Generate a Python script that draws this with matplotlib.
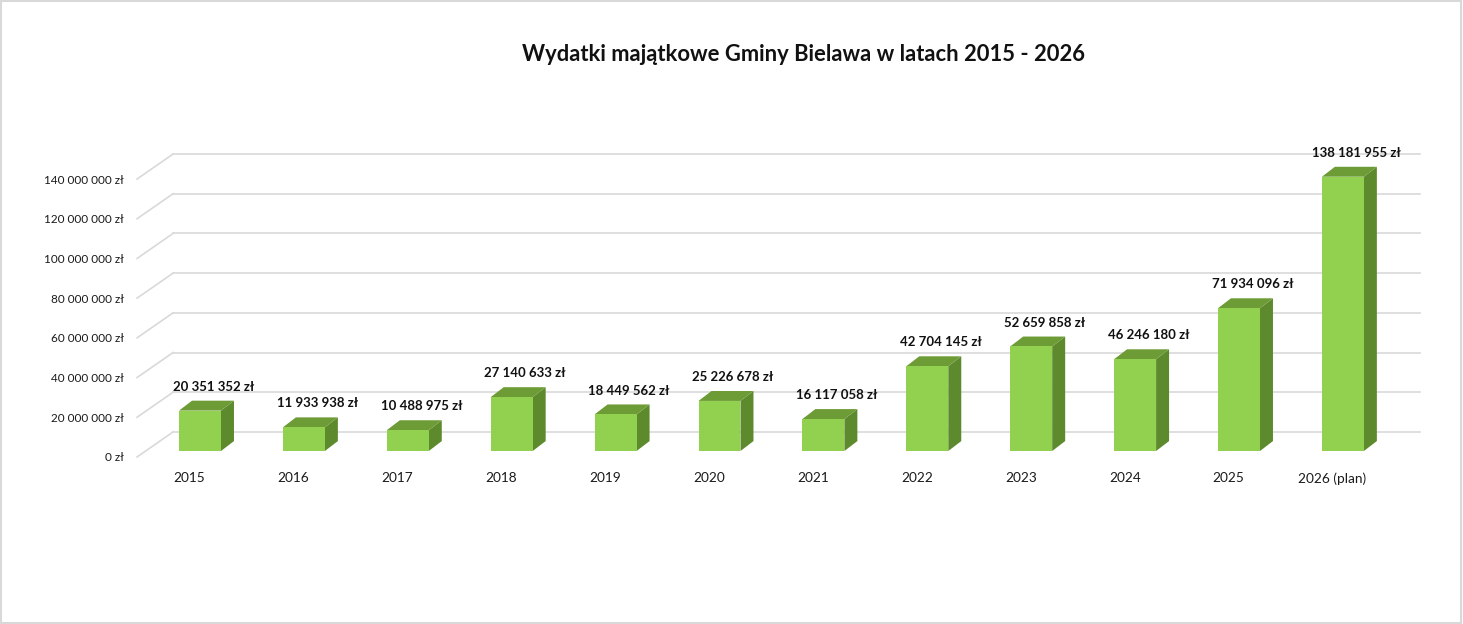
import numpy as np
import matplotlib.pyplot as plt
from matplotlib.patches import Polygon, Rectangle

years = ['2015', '2016', '2017', '2018', '2019', '2020', '2021', '2022',
         '2023', '2024', '2025', '2026 (plan)']
values = [20351352, 11933938, 10488975, 27140633, 18449562, 25226678,
          16117058, 42704145, 52659858, 46246180, 71934096, 138181955]
yticks = [0, 20e6, 40e6, 60e6, 80e6, 100e6, 120e6, 140e6]

plt.rcParams['font.family'] = ['Lato', 'DejaVu Sans']

FRONT = '#92d050'
SIDE = '#5e8a2e'
TOP = '#6d9b35'
GRID = '#d9d9d9'

fig = plt.figure(figsize=(14.63, 6.24), dpi=100)
ax = fig.add_axes([0, 0, 1, 1])
ax.set_xlim(-1.925, 12.156)
ax.set_ylim(-87.15e6, 227.2e6)
ax.axis('off')

# 3d geometry (data units)
wall_dx, wall_dy = 0.3465, 12.6e6
front_x, front_y = -0.606, -3.0e6
right_x = 11.742
bw = 0.404
bar_dx, bar_dy = 0.125, 5.0e6

# walls and gridlines
for t in yticks:
    ax.plot([front_x, front_x + wall_dx], [t + front_y, t + front_y + wall_dy],
            color=GRID, lw=1.2, zorder=1)
    ax.plot([front_x + wall_dx, right_x], [t + front_y + wall_dy] * 2,
            color=GRID, lw=1.2, zorder=1)
    ax.text(front_x - 0.125, t - 3.5e6, f'{int(t):,} zł'.replace(',', ' '),
            ha='right', va='center', fontsize=8.5, color='#1a1a1a')

# bars
x = np.arange(len(years))
for i, v in zip(x, values):
    l, r = i - bw / 2, i + bw / 2
    ax.add_patch(Polygon([(r, 0), (r + bar_dx, bar_dy), (r + bar_dx, v + bar_dy), (r, v)],
                         closed=True, fc=SIDE, ec='none', zorder=3))
    ax.add_patch(Polygon([(l, v), (r, v), (r + bar_dx, v + bar_dy), (l + bar_dx, v + bar_dy)],
                         closed=True, fc=TOP, ec='none', zorder=3))
ax.bar(x, values, width=bw, color=FRONT, zorder=4)

for i, v in zip(x, values):
    ax.text(i + 0.13, v + bar_dy + 4.0e6, f'{v:,} zł'.replace(',', ' '),
            ha='center', va='bottom', fontsize=9.5, fontweight='bold', color='#111111')
for i, lab in zip(x, years):
    ax.text(i - 0.1, -13.8e6, lab, ha='center', va='center', fontsize=9.8, color='#1a1a1a')

fig.text(0.5495, 0.913, 'Wydatki majątkowe Gminy Bielawa w latach 2015 - 2026',
         ha='center', va='center', fontsize=15.8, fontweight='bold', color='#111111')

fig.add_artist(Rectangle((0.0005, 0.001), 0.998, 0.997, transform=fig.transFigure,
                         fill=False, ec=GRID, lw=1.5))

fig.savefig('out.png', dpi=100)
